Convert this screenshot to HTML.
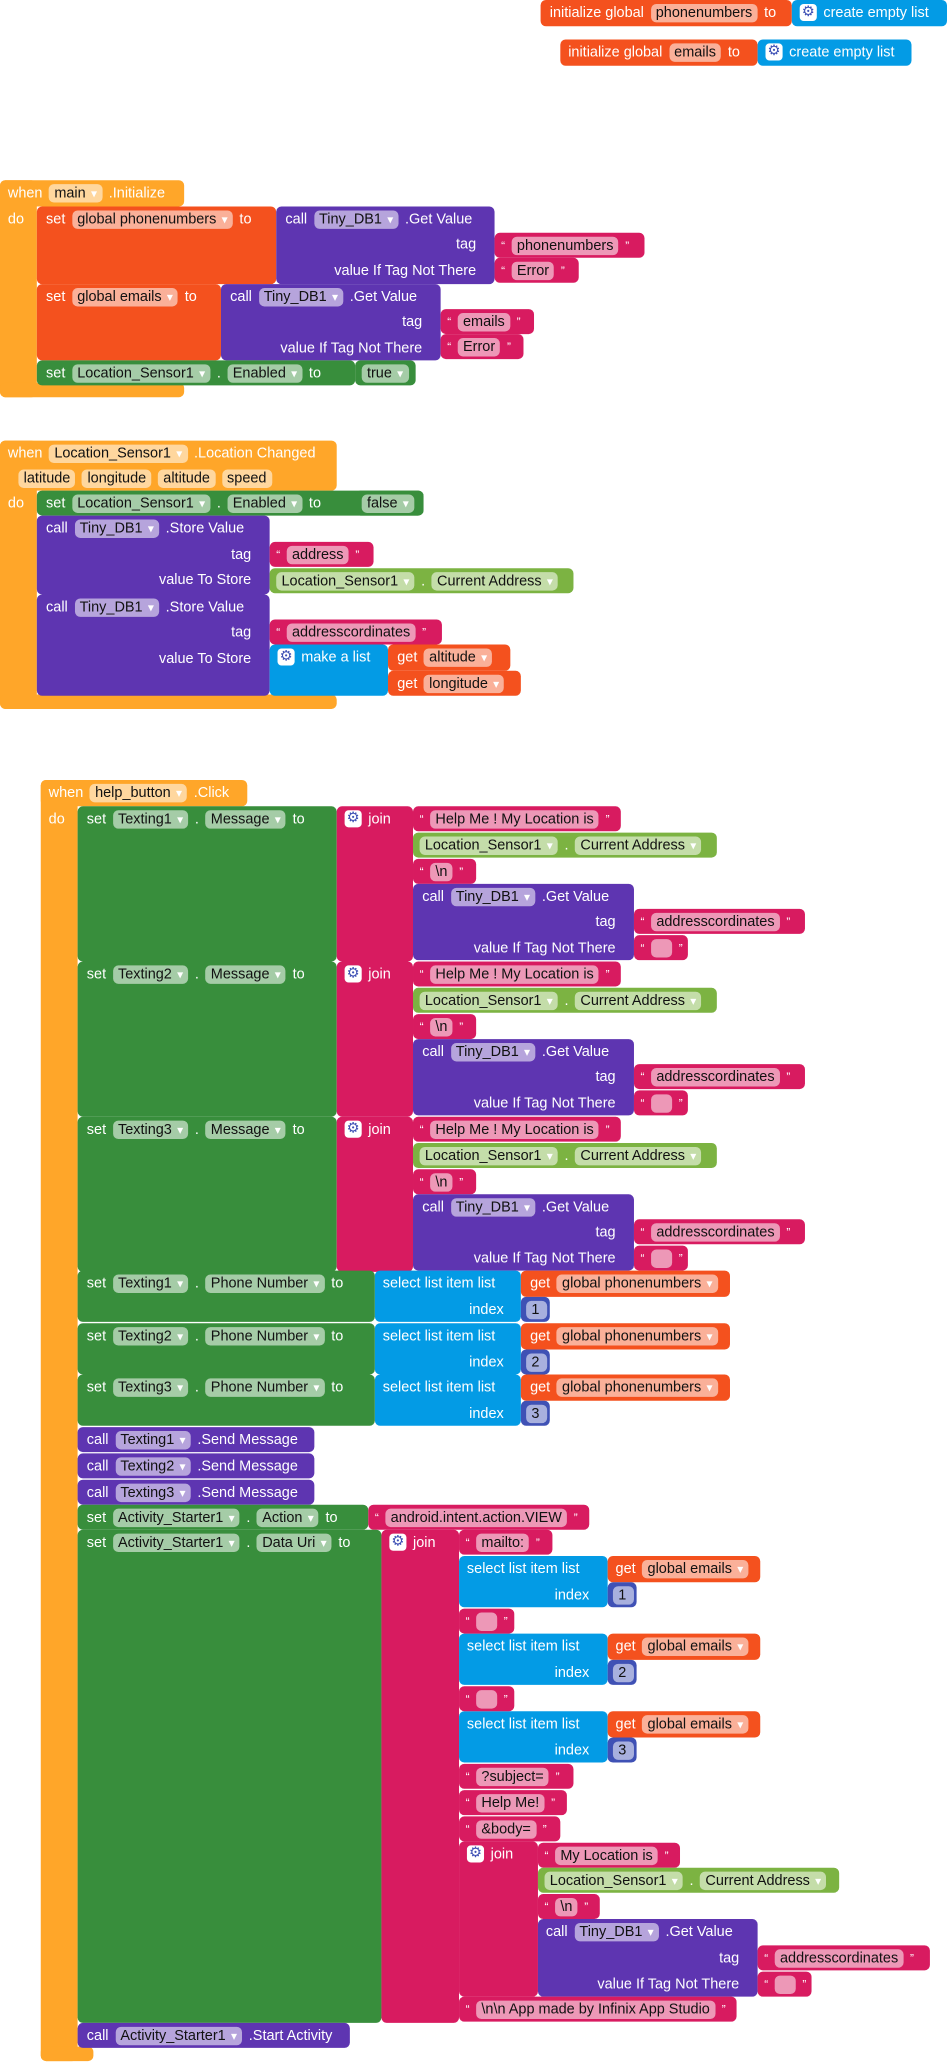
<!DOCTYPE html>
<html><head><meta charset="utf-8">
<style>
html,body{margin:0;padding:0;background:#fff;width:947px;height:2063px;overflow:hidden}
#wrap{position:absolute;left:0;top:0;width:720px;height:1568px;transform:scale(1.3153);transform-origin:0 0}
.b{position:absolute;border-radius:4px}
.l{position:absolute;height:19px;display:flex;align-items:center;gap:5px;color:#fff;font:11px "Liberation Sans",sans-serif;white-space:nowrap}
.r{transform:translateX(-100%)}
.p{display:inline-block;height:14px;line-height:14px;padding:0 4px;border-radius:4px;background:rgba(255,255,255,.55);color:#111;min-width:8px}
.p i{font-style:normal;color:#fff;font-size:9px;margin-left:4px}
.g{display:inline-block;width:13px;height:13px;line-height:13px;text-align:center;background:#fff;border-radius:3px;color:#3f51b5;font-size:11px}
.q{font-size:9px}
</style></head><body>
<div id="wrap"></div>
<script>
const W=document.getElementById('wrap');
const EV='#FFA629',RED='#F4511E',PUR='#5E35B1',MAG='#D81B60',GRN='#388E3C',LGR='#7CB342',BLU='#039BE5',NUM='#3F51B5';
function B(x,y,w,h,c,name){
  const d=document.createElement('div');
  d.className='b';
  d.style.cssText=`left:${x}px;top:${y}px;width:${w}px;height:${h}px;background:${c}`;
  
  
  W.appendChild(d);return d;
}
function L(x,y,parts,right){
  const d=document.createElement('div');
  d.className='l'+(right?' r':'');
  d.style.left=x+'px';d.style.top=y+'px';
  
  
  for(const p of parts){
    const s=document.createElement('span');
    if(p[0]==='['){s.className='p';s.innerHTML=p.slice(1)+'<i>▾</i>';
      
      }
    else if(p[0]==='{'){s.className='p';s.textContent=p.slice(1);
      
      }
    else if(p==='@'){s.className='g';s.textContent='⚙';
      
      }
    else if(p==='“'||p==='”'){s.className='q';s.textContent=p;}
    else s.textContent=p;
    d.appendChild(s);
  }
  W.appendChild(d);return d;
}
function R(x,y,t){return L(x,y,[t],true);}
function S(x,y,w,t){B(x,y,w,19,MAG,'text-block');L(x+5,y,['“','{'+t,'”']);}
function EVT(x,y,w,hh,h,bw){B(x,y,w,hh,EV,'event-header');B(x,y,28,h,EV,'event-spine');B(x,y+h-11,bw||w,11,EV,'event-bottom');}

// globals
B(411,0,191,20,RED,'init-phonenumbers');L(418,0,['initialize global','{phonenumbers','to']);
B(602,0,118,20,BLU,'create-empty-list');L(608,0,['@','create empty list']);
B(426,30,150,20,RED,'init-emails');L(432,30,['initialize global','{emails','to']);
B(576,30,117,20,BLU,'create-empty-list');L(582,30,['@','create empty list']);

// main.Initialize
EVT(0,137,140,20,165);
L(6,137,['when','[main','.Initialize']);L(6,157,['do']);
B(28,157,182,59,RED,'set-phonenumbers');L(35,157,['set','[global phonenumbers','to']);
B(210,157,166,59,PUR,'get-value');L(217,157,['call','[Tiny_DB1','.Get Value']);
R(362,176,'tag');R(362,196,'value If Tag Not There');
S(376,177,114,'phonenumbers');S(376,196,64,'Error');
B(28,216,140,58,RED,'set-emails');L(35,216,['set','[global emails','to']);
B(168,216,167,58,PUR,'get-value');L(175,216,['call','[Tiny_DB1','.Get Value']);
R(321,235,'tag');R(321,255,'value If Tag Not There');
S(335,235,71,'emails');S(335,254,63,'Error');
B(28,274,242,19,GRN,'set-enabled');L(35,274,['set','[Location_Sensor1','.','[Enabled','to']);
B(270,274,46,19,GRN,'true-block');L(275,274,['[true']);

// LocationChanged
EVT(0,335,256,38,204);
L(6,335,['when','[Location_Sensor1','.Location Changed']);
L(14,354,['{latitude','{longitude','{altitude','{speed']);L(6,373,['do']);
B(28,373,294,19,GRN,'set-enabled');L(35,373,['set','[Location_Sensor1','.','[Enabled','to']);
B(270,373,52,19,GRN,'false-block');L(275,373,['[false']);
B(28,392,177,60,PUR,'store-value');L(35,392,['call','[Tiny_DB1','.Store Value']);
R(191,412,'tag');R(191,431,'value To Store');
S(205,412,79,'address');
B(205,432,231,19,LGR,'current-address');L(210,432,['[Location_Sensor1','.','[Current Address']);
B(28,452,177,77,PUR,'store-value');L(35,452,['call','[Tiny_DB1','.Store Value']);
R(191,471,'tag');R(191,491,'value To Store');
S(205,471,131,'addresscordinates');
B(205,490,90,39,BLU,'make-a-list');L(211,490,['@','make a list']);
B(295,490,93,20,RED,'get-altitude');L(302,490,['get','[altitude']);
B(295,510,101,19,RED,'get-longitude');L(302,510,['get','[longitude']);

// help_button.Click
EVT(31,593,157,20,974,40);
L(37,593,['when','[help_button','.Click']);L(37,613,['do']);
[613,731,849].forEach((y0,k)=>{const i=k+1;
  B(59,y0,197,118,GRN,'set-message');L(66,y0,['set','[Texting'+i,'.','[Message','to']);
  B(256,y0,58,118,MAG,'join-block');L(262,y0,['@','join']);
  S(314,y0,158,'Help Me ! My Location is');
  B(314,y0+20,231,19,LGR,'current-address');L(319,y0+20,['[Location_Sensor1','.','[Current Address']);
  S(314,y0+40,48,'\\n');
  B(314,y0+59,168,58,PUR,'get-value');L(321,y0+59,['call','[Tiny_DB1','.Get Value']);
  R(468,y0+78,'tag');R(468,y0+98,'value If Tag Not There');
  S(482,y0+78,130,'addresscordinates');S(482,y0+98,41,'');
});
[966,1006,1045].forEach((y0,k)=>{const i=k+1;
  B(59,y0,226,39,GRN,'set-phone-number');L(66,y0,['set','[Texting'+i,'.','[Phone Number','to']);
  B(285,y0,111,39,BLU,'select-list-item');L(291,y0,['select list item  list']);R(383,y0+20,'index');
  B(396,y0,159,20,RED,'get-phonenumbers');L(403,y0,['get','[global phonenumbers']);
  B(396,y0+20,22,19,NUM,'index-number');L(400,y0+20,['{'+i]);
});
[1085,1105,1125].forEach((y0,k)=>{const i=k+1;
  B(59,y0,180,19,PUR,'send-message');L(66,y0,['call','[Texting'+i,'.Send Message']);
});
B(59,1144,221,19,GRN,'set-action');L(66,1144,['set','[Activity_Starter1','.','[Action','to']);
S(280,1144,168,'android.intent.action.VIEW');
B(59,1163,231,375,GRN,'set-data-uri');L(66,1163,['set','[Activity_Starter1','.','[Data Uri','to']);
B(290,1163,59,375,MAG,'join-block');L(296,1163,['@','join']);
S(349,1163,71,'mailto:');
[1183,1242,1301].forEach((y,k)=>{
  B(349,y,113,39,BLU,'select-list-item');L(355,y,['select list item  list']);R(448,y+20,'index');
  B(462,y,116,20,RED,'get-emails');L(468,y,['get','[global emails']);
  B(462,y+20,22,19,NUM,'index-number');L(466,y+20,['{'+(k+1)]);
});
S(349,1223,42,'');S(349,1282,42,'');
S(349,1341,87,'?subject=');S(349,1361,82,'Help Me!');S(349,1381,77,'&body=');
B(349,1400,60,118,MAG,'join-block');L(355,1400,['@','join']);
S(409,1401,108,'My Location is');
B(409,1420,229,19,LGR,'current-address');L(414,1420,['[Location_Sensor1','.','[Current Address']);
S(409,1440,47,'\\n');
B(409,1459,167,59,PUR,'get-value');L(415,1459,['call','[Tiny_DB1','.Get Value']);
R(562,1479,'tag');R(562,1499,'value If Tag Not There');
S(576,1479,131,'addresscordinates');S(576,1499,41,'');
S(349,1518,211,'\\n\\n App made by Infinix App Studio');
B(59,1538,207,19,PUR,'start-activity');L(66,1538,['call','[Activity_Starter1','.Start Activity']);
</script>
</body></html>
